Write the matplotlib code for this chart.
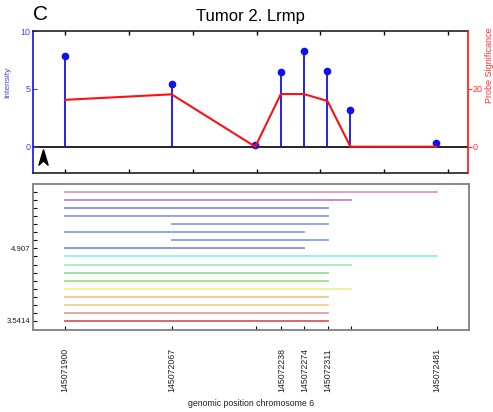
import matplotlib
matplotlib.use('Agg')
import matplotlib.pyplot as plt
from matplotlib.path import Path

plt.rcParams['font.family'] = ['Liberation Sans', 'DejaVu Sans']

# probe positions (genomic position, chromosome 6)
posicoes = [145071900, 145072067, 145072198, 145072238, 145072274, 145072311, 145072347, 145072481]
rotulos_x = ['145071900', '145072067', '', '145072238', '145072274', '145072311', '', '145072481']
intensidade = [7.84, 5.42, 0.15, 6.43, 8.30, 6.50, 3.17, 0.35]
significancia = [16.2, 18.1, 0.0, 18.2, 18.2, 15.8, 0.0, 0.0]

# segments of the lower panel (from bottom to top)
seg_y = [3.5414, 3.6931, 3.8449, 3.9966, 4.1483, 4.3001, 4.4518, 4.6035, 4.7553,
         4.9070, 5.0587, 5.2104, 5.3622, 5.5139, 5.6656, 5.8174, 5.9691]
seg_inicio = [145071900, 145071900, 145071900, 145071900, 145071900, 145071900, 145071900, 145071900,
              145071900, 145071900, 145072067, 145071900, 145072067, 145071900, 145071900, 145071900, 145071900]
seg_fim = [145072311, 145072311, 145072311, 145072311, 145072347, 145072311, 145072311, 145072347,
           145072481, 145072274, 145072311, 145072274, 145072311, 145072311, 145072311, 145072347, 145072481]
seg_cor = ['#e05858', '#e0a0a0', '#f0d090', '#f0c888', '#f0f090', '#a0e080', '#90e090', '#a0f0b0',
           '#90f0f0', '#8090e8', '#80a0f0', '#80a0e8', '#80a0f0', '#9098f0', '#9088f0', '#c080e0', '#e890d0']
rotulos_y = ['3.5414', '', '', '', '', '', '', '', '', '4.907', '', '', '', '', '', '', '']

xlim = (145071850, 145072531)
ticks_topo = [145071900, 145072000, 145072100, 145072200, 145072300, 145072400, 145072500]

W, H = 493, 412
fig = plt.figure(figsize=(W / 100, H / 100), dpi=100)

# ---------- painel superior ----------
ax = fig.add_axes([33 / W, 1 - 173.3 / H, 435 / W, 142.3 / H])
ax.set_xlim(*xlim)
ax.set_ylim(-2.3, 10)
ax.axhline(0, color='black', lw=1.2, zorder=1)
ax.vlines(posicoes, 0, intensidade, color='#1010f0', lw=1.3, zorder=3)
ax.plot(posicoes, intensidade, 'o', color='#1010f0', ms=4.5, zorder=4)
ax.set_xticks(ticks_topo)
ax.tick_params(axis='x', direction='in', top=True, bottom=True, labelbottom=False,
               length=3, width=1, color='black')
ax.set_yticks([0, 5, 10])
ax.tick_params(axis='y', direction='in', length=3, colors='#4040ff', labelsize=6.5, pad=2)
ax.set_ylabel('Intensity', color='#4040ff', fontsize=6)
ax.yaxis.set_label_coords(-0.05, 0.64)
ax.spines['left'].set_color('#1010f0')
ax.spines['left'].set_linewidth(1.2)
ax.spines['right'].set_visible(False)
for s in ['top', 'bottom']:
    ax.spines[s].set_color('#202020')
    ax.spines[s].set_linewidth(1.2)

ax2 = ax.twinx()
ax2.set_ylim(-9.2, 40)
ax2.plot(posicoes, significancia, color='#ff1010', lw=1.5, zorder=2)
ax2.set_yticks([0, 20])
ax2.tick_params(axis='y', direction='out', length=3, colors='#ff3030', labelsize=6.5, pad=0.5)
ax2.set_ylabel('Probe Significance', color='#ff3030', fontsize=6.5, rotation=90)
ax2.yaxis.set_label_coords(1.039, 0.757)
ax2.spines['right'].set_color('#ff1010')
ax2.spines['right'].set_linewidth(1.2)
for s in ['left', 'top', 'bottom']:
    ax2.spines[s].set_visible(False)

# arrowhead marker
seta = Path([(0, 1), (0.6, -1), (0, -0.45), (-0.6, -1), (0, 1)],
            [Path.MOVETO, Path.LINETO, Path.LINETO, Path.LINETO, Path.CLOSEPOLY])
ax.plot([0.023], [0.115], marker=seta, color='black', ms=11, transform=ax.transAxes,
        clip_on=False)

# ---------- painel inferior ----------
bx = fig.add_axes([33 / W, 1 - 330 / H, 436 / W, 146 / H])
bx.set_xlim(*xlim)
bx.set_ylim(3.371, 6.12)
for y, x0, x1, c in zip(seg_y, seg_inicio, seg_fim, seg_cor):
    bx.plot([x0, x1], [y, y], color=c, lw=1.3)
bx.set_xticks(posicoes)
bx.set_xticklabels(rotulos_x, rotation=90, fontsize=6.3, color='#202020')
bx.tick_params(axis='x', direction='in', length=3, pad=13)
bx.set_yticks(seg_y)
bx.set_yticklabels(rotulos_y, fontsize=5.6, color='#202020')
bx.tick_params(axis='y', direction='in', length=3, pad=2)
bx.set_xlabel('genomic position chromosome 6', fontsize=6.3, color='#202020', labelpad=5)
for s in bx.spines.values():
    s.set_color('#808080')
    s.set_linewidth(1.3)

fig.text(250.5 / W, 1 - 16 / H, 'Tumor 2. Lrmp', ha='center', va='center', fontsize=12)
fig.text(33 / W, 1 - 15 / H, 'C', ha='left', va='center', fontsize=15)

fig.savefig('out.png', dpi=100)
